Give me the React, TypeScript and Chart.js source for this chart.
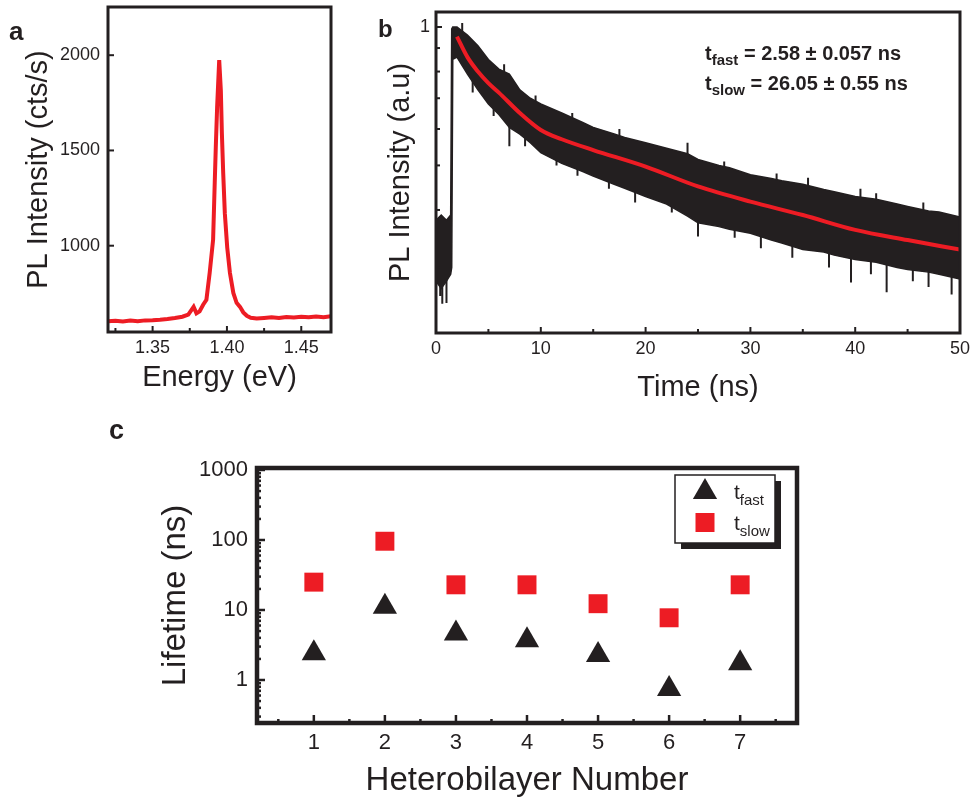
import React, { useEffect, useRef } from "react";
import { Chart, registerables } from "chart.js";
Chart.register(...registerables);

const FONT = "'Liberation Sans', Arial, Helvetica, sans-serif";
const RED = "#ed1c24";
const BLACK = "#231f20";

// ---------- Panel a : PL spectrum ----------
const energyEV = [1.320, 1.325, 1.330, 1.335, 1.340, 1.345, 1.350, 1.355, 1.360, 1.365, 1.370, 1.374, 1.3776, 1.3795, 1.3816, 1.384, 1.3862, 1.3884, 1.3907, 1.3918, 1.3925, 1.3934, 1.3948, 1.3959, 1.3966, 1.3975, 1.3986, 1.4002, 1.402, 1.4043, 1.4065, 1.4088, 1.411, 1.4134, 1.416, 1.420, 1.425, 1.430, 1.435, 1.440, 1.445, 1.450, 1.455, 1.460, 1.465, 1.470];
const plCounts = [603, 606, 602, 607, 604, 608, 609, 611, 615, 620, 627, 638, 679, 645, 655, 690, 716, 858, 1032, 1332, 1516, 1726, 1974, 1816, 1590, 1380, 1168, 990, 858, 752, 700, 679, 650, 632, 622, 618, 621, 624, 620, 626, 623, 627, 624, 628, 625, 630];
const aXTicks = [1.35, 1.40, 1.45];
const aXMinor = [1.325, 1.375, 1.425];
const aYTicks = [1000, 1500, 2000];

// ---------- Panel b : PL decay ----------
const decayTime = [0, 0.5, 1.0, 1.4, 1.5, 1.6, 2, 3, 4, 5, 6, 7, 8, 9, 10, 12, 14, 15, 17, 18, 20, 22, 24, 25, 27, 28, 30, 32, 33, 35, 37, 38, 40, 42, 44, 45, 47, 48, 50];
const decayUpper = [0.38, 0.39, 0.38, 0.39, 0.99, 1.0, 1.0, 0.96, 0.91, 0.85, 0.81, 0.79, 0.73, 0.70, 0.68, 0.65, 0.62, 0.605, 0.585, 0.575, 0.56, 0.545, 0.53, 0.515, 0.50, 0.494, 0.477, 0.468, 0.463, 0.455, 0.443, 0.438, 0.428, 0.422, 0.412, 0.407, 0.398, 0.396, 0.386];
const decayLower = [0.28, 0.27, 0.28, 0.29, 0.30, 0.85, 0.86, 0.79, 0.73, 0.68, 0.645, 0.605, 0.585, 0.56, 0.533, 0.505, 0.485, 0.474, 0.455, 0.446, 0.428, 0.412, 0.388, 0.375, 0.368, 0.363, 0.356, 0.344, 0.339, 0.328, 0.324, 0.319, 0.312, 0.308, 0.30, 0.297, 0.293, 0.29, 0.283];
const spikeTime = [0.4, 0.6, 1.0, 3.5, 5.5, 7.0, 8.5, 11.5, 13.5, 16.5, 19.0, 22.5, 25.0, 28.5, 31.0, 34.0, 37.5, 39.6, 41.5, 43.0, 45.5, 47.0, 49.2];
const spikeLow = [0.26, 0.25, 0.251, 0.72, 0.64, 0.55, 0.55, 0.50, 0.475, 0.445, 0.415, 0.395, 0.35, 0.348, 0.33, 0.315, 0.30, 0.278, 0.29, 0.265, 0.28, 0.272, 0.262];
const spikeHigh = [0.30, 0.30, 0.30, 0.80, 0.70, 0.62, 0.60, 0.55, 0.52, 0.48, 0.45, 0.43, 0.40, 0.38, 0.36, 0.35, 0.33, 0.33, 0.32, 0.32, 0.31, 0.31, 0.31];
const spikeUpTime = [2.5, 6.5, 9.5, 13.0, 17.5, 24.0, 27.5, 32.5, 35.5, 40.5, 42.0, 46.5];
const spikeUpLow = [0.95, 0.76, 0.66, 0.60, 0.56, 0.50, 0.47, 0.44, 0.43, 0.41, 0.40, 0.38];
const spikeUpHigh = [1.02, 0.83, 0.71, 0.65, 0.60, 0.56, 0.51, 0.48, 0.47, 0.445, 0.435, 0.415];
const fitTime = [2, 3, 4, 5, 6, 8, 10, 12, 15, 20, 25, 30, 35, 40, 45, 50];
const fitValues = [0.953, 0.86, 0.80, 0.755, 0.72, 0.65, 0.597, 0.57, 0.54, 0.497, 0.45, 0.417, 0.39, 0.362, 0.344, 0.328];
const bXTicks = [0, 10, 20, 30, 40, 50];
const bXMinor = [5, 15, 25, 35, 45];
const bYTicks = [1];
const bYMinor = [0.9, 0.8, 0.7, 0.6, 0.5, 0.4, 0.3];
const fitLines = [
  { main: "t", sub: "fast", rest: " = 2.58 ± 0.057 ns" },
  { main: "t", sub: "slow", rest: " = 26.05 ± 0.55 ns" },
];

// ---------- Panel c : lifetimes ----------
const bilayerNumber = [1, 2, 3, 4, 5, 6, 7];
const tFast = [2.41, 11.1, 4.63, 3.71, 2.27, 0.744, 1.73];
const tSlow = [25.0, 96, 22.9, 22.9, 12.3, 7.74, 22.9];
const cXTicks = [1, 2, 3, 4, 5, 6, 7];
const cXMinor = [0.5, 1.5, 2.5, 3.5, 4.5, 5.5, 6.5, 7.5];
const cYTicks = [1, 10, 100, 1000];
const cYMinor = [0.3, 0.4, 0.5, 0.6, 0.7, 0.8, 0.9, 2, 3, 4, 5, 6, 7, 8, 9, 20, 30, 40, 50, 60, 70, 80, 90, 200, 300, 400, 500, 600, 700, 800, 900];
const legendItems = [
  { main: "t", sub: "fast" },
  { main: "t", sub: "slow" },
];

const framePlugin = {
  id: "frame",
  afterDatasetsDraw(chart: any, _a: any, o: any) {
    const { ctx, chartArea } = chart;
    const { left, right, top, bottom } = chartArea;
    const x = chart.scales.x;
    const y = chart.scales.y;
    ctx.save();
    ctx.strokeStyle = o.color;
    ctx.lineWidth = o.tickWidth;
    const hx = (vals: number[], len: number) => {
      for (const v of vals) {
        const p = x.getPixelForValue(v);
        if (p < left || p > right) continue;
        ctx.beginPath();
        ctx.moveTo(p, bottom);
        ctx.lineTo(p, bottom - len);
        ctx.stroke();
      }
    };
    const vy = (vals: number[], len: number) => {
      for (const v of vals) {
        const p = y.getPixelForValue(v);
        if (p < top || p > bottom) continue;
        ctx.beginPath();
        ctx.moveTo(left, p);
        ctx.lineTo(left + len, p);
        ctx.stroke();
      }
    };
    hx(o.xMajor || [], o.majorLen);
    hx(o.xMinor || [], o.minorLen);
    vy(o.yMajor || [], o.majorLen);
    vy(o.yMinor || [], o.minorLen);
    ctx.lineWidth = o.lineWidth;
    ctx.strokeRect(left, top, right - left, bottom - top);
    ctx.restore();
  },
};

function drawSub(ctx: any, x: number, y: number, main: string, sub: string, rest: string, mainFont: string, subFont: string, dy: number) {
  ctx.font = mainFont;
  ctx.fillText(main, x, y);
  let w = ctx.measureText(main).width;
  ctx.font = subFont;
  ctx.fillText(sub, x + w, y + dy);
  w += ctx.measureText(sub).width;
  if (rest) {
    ctx.font = mainFont;
    ctx.fillText(rest, x + w, y);
  }
}

const annotatePlugin = {
  id: "annot",
  afterDraw(chart: any, _a: any, o: any) {
    const { ctx } = chart;
    ctx.save();
    ctx.fillStyle = BLACK;
    ctx.textBaseline = "alphabetic";
    o.lines.forEach((l: any, i: number) => {
      drawSub(ctx, o.x, o.y + i * o.gap, l.main, l.sub, l.rest, `bold ${o.size}px ${FONT}`, `bold ${o.subSize}px ${FONT}`, o.subDy);
    });
    ctx.restore();
  },
};

const legendPlugin = {
  id: "legbox",
  afterDraw(chart: any, _a: any, o: any) {
    const { ctx } = chart;
    const { x, y, w, h, sh } = o;
    ctx.save();
    ctx.fillStyle = BLACK;
    ctx.fillRect(x + sh, y + sh, w, h);
    ctx.fillStyle = "#fff";
    ctx.fillRect(x, y, w, h);
    ctx.strokeStyle = BLACK;
    ctx.lineWidth = 1.5;
    ctx.strokeRect(x, y, w, h);
    const mx = x + 30;
    const r = 14;
    const ty = y + 17;
    ctx.fillStyle = BLACK;
    ctx.beginPath();
    ctx.moveTo(mx, ty - r);
    ctx.lineTo(mx + r * Math.sin((2 * Math.PI) / 3), ty - r * Math.cos((2 * Math.PI) / 3));
    ctx.lineTo(mx + r * Math.sin((4 * Math.PI) / 3), ty - r * Math.cos((4 * Math.PI) / 3));
    ctx.closePath();
    ctx.fill();
    ctx.fillStyle = RED;
    ctx.fillRect(mx - 9.5, y + 38, 19, 19);
    ctx.fillStyle = BLACK;
    ctx.textBaseline = "alphabetic";
    legendItems.forEach((it, i) => {
      drawSub(ctx, x + 59, y + 24 + i * 31, it.main, it.sub, "", `21px ${FONT}`, `15px ${FONT}`, 6);
    });
    ctx.restore();
  },
};

function fixedBox(kind: "w" | "h", size: number) {
  return (s: any) => {
    if (kind === "w") s.width = size;
    else s.height = size;
    s.paddingLeft = 0;
    s.paddingRight = 0;
    s.paddingTop = 0;
    s.paddingBottom = 0;
  };
}

function setTicks(vals: number[]) {
  return (s: any) => {
    s.ticks = vals.map((v) => ({ value: v }));
  };
}

const tickFont = (size: number) => ({ family: FONT, size });

function useChart(ref: React.RefObject<HTMLCanvasElement | null>, make: () => any) {
  useEffect(() => {
    if (!ref.current) return;
    const ch = new Chart(ref.current, make());
    return () => ch.destroy();
  }, []);
}

function segments(ts: number[], lo: number[], hi: number[]) {
  const out: any[] = [];
  ts.forEach((t, i) => {
    out.push({ x: t, y: lo[i] }, { x: t, y: hi[i] }, { x: t, y: null });
  });
  return out;
}

function configA() {
  return {
    type: "line",
    data: {
      datasets: [
        {
          data: energyEV.map((e, i) => ({ x: e, y: plCounts[i] })),
          borderColor: RED,
          borderWidth: 4,
          pointRadius: 0,
          tension: 0,
        },
      ],
    },
    plugins: [framePlugin],
    options: {
      animation: false,
      responsive: false,
      layout: { padding: { left: 0, right: 14, top: 7, bottom: 0 } },
      plugins: {
        legend: { display: false },
        tooltip: { enabled: false },
        frame: { color: BLACK, lineWidth: 3, tickWidth: 2, majorLen: 6, minorLen: 4, xMajor: aXTicks, xMinor: aXMinor, yMajor: aYTicks },
      },
      scales: {
        x: {
          type: "linear",
          min: 1.32,
          max: 1.47,
          grid: { display: false, drawTicks: false },
          border: { display: false },
          afterBuildTicks: setTicks(aXTicks),
          afterFit: fixedBox("h", 78),
          ticks: { font: tickFont(18), color: BLACK, padding: 5, maxRotation: 0, autoSkip: false, callback: (v: any) => Number(v).toFixed(2) },
          title: { display: true, text: "Energy (eV)", color: BLACK, font: { family: FONT, size: 29 }, padding: { top: 0, bottom: 15 } },
        },
        y: {
          type: "linear",
          min: 547,
          max: 2253,
          grid: { display: false, drawTicks: false },
          border: { display: false },
          afterBuildTicks: setTicks(aYTicks),
          afterFit: fixedBox("w", 108),
          ticks: { font: tickFont(18), color: BLACK, padding: 8, callback: (v: any) => String(v) },
          title: { display: true, text: "PL Intensity (cts/s)", color: BLACK, font: { family: FONT, size: 29 }, padding: { top: 22, bottom: 0 } },
        },
      },
    },
  };
}

function configB() {
  return {
    type: "line",
    data: {
      datasets: [
        {
          data: fitTime.map((t, i) => ({ x: t, y: fitValues[i] })),
          borderColor: RED,
          borderWidth: 4,
          pointRadius: 0,
          cubicInterpolationMode: "monotone",
          fill: false,
        },
        {
          data: decayTime.map((t, i) => ({ x: t, y: decayUpper[i] })),
          borderColor: BLACK,
          backgroundColor: BLACK,
          borderWidth: 1.5,
          pointRadius: 0,
          fill: "+1",
        },
        {
          data: decayTime.map((t, i) => ({ x: t, y: decayLower[i] })),
          borderColor: BLACK,
          borderWidth: 1.5,
          pointRadius: 0,
          fill: false,
        },
        {
          data: segments(spikeTime, spikeLow, spikeHigh),
          borderColor: BLACK,
          borderWidth: 2,
          pointRadius: 0,
          spanGaps: false,
          fill: false,
        },
        {
          data: segments(spikeUpTime, spikeUpLow, spikeUpHigh),
          borderColor: BLACK,
          borderWidth: 2,
          pointRadius: 0,
          spanGaps: false,
          fill: false,
        },
      ],
    },
    plugins: [framePlugin, annotatePlugin],
    options: {
      animation: false,
      responsive: false,
      layout: { padding: { left: 0, right: 11, top: 12, bottom: 0 } },
      plugins: {
        legend: { display: false },
        tooltip: { enabled: false },
        frame: { color: BLACK, lineWidth: 3, tickWidth: 2, majorLen: 6, minorLen: 4, xMajor: bXTicks, xMinor: bXMinor, yMajor: bYTicks, yMinor: bYMinor },
        annot: { lines: fitLines, x: 360, y: 60, gap: 30, size: 20, subSize: 15, subDy: 5 },
      },
      scales: {
        x: {
          type: "linear",
          min: 0,
          max: 50,
          grid: { display: false, drawTicks: false },
          border: { display: false },
          afterBuildTicks: setTicks(bXTicks),
          afterFit: fixedBox("h", 77),
          ticks: { font: tickFont(18), color: BLACK, padding: 5, maxRotation: 0, autoSkip: false },
          title: { display: true, text: "Time (ns)", color: BLACK, font: { family: FONT, size: 29 }, padding: { top: 0, bottom: 5 } },
        },
        y: {
          type: "logarithmic",
          min: 0.216,
          max: 1.078,
          grid: { display: false, drawTicks: false },
          border: { display: false },
          afterBuildTicks: setTicks(bYTicks),
          afterFit: fixedBox("w", 91),
          ticks: { font: tickFont(18), color: BLACK, padding: 6, callback: (v: any) => String(v) },
          title: { display: true, text: "PL Intensity (a.u)", color: BLACK, font: { family: FONT, size: 29 }, padding: { top: 39, bottom: 0 } },
        },
      },
    },
  };
}

function configC() {
  return {
    type: "scatter",
    data: {
      datasets: [
        {
          data: bilayerNumber.map((n, i) => ({ x: n, y: tFast[i] })),
          pointStyle: "triangle",
          pointRadius: 14,
          backgroundColor: BLACK,
          borderColor: BLACK,
          borderWidth: 0,
        },
        {
          data: bilayerNumber.map((n, i) => ({ x: n, y: tSlow[i] })),
          pointStyle: "rect",
          pointRadius: 13.4,
          backgroundColor: RED,
          borderColor: RED,
          borderWidth: 0,
        },
      ],
    },
    plugins: [framePlugin, legendPlugin],
    options: {
      animation: false,
      responsive: false,
      layout: { padding: { left: 0, right: 174, top: 73, bottom: 0 } },
      plugins: {
        legend: { display: false },
        tooltip: { enabled: false },
        frame: { color: BLACK, lineWidth: 4.5, tickWidth: 2.5, majorLen: 8, minorLen: 4, xMajor: cXTicks, xMinor: cXMinor, yMajor: cYTicks, yMinor: cYMinor },
        legbox: { x: 675, y: 80, w: 100, h: 68, sh: 6 },
      },
      scales: {
        x: {
          type: "linear",
          min: 0.2,
          max: 7.8,
          grid: { display: false, drawTicks: false },
          border: { display: false },
          afterBuildTicks: setTicks(cXTicks),
          afterFit: fixedBox("h", 75),
          ticks: { font: tickFont(22), color: BLACK, padding: 7, maxRotation: 0, autoSkip: false },
          title: { display: true, text: "Heterobilayer Number", color: BLACK, font: { family: FONT, size: 33 }, padding: { top: 0, bottom: -3 } },
        },
        y: {
          type: "logarithmic",
          min: 0.243,
          max: 1068,
          grid: { display: false, drawTicks: false },
          border: { display: false },
          afterBuildTicks: setTicks(cYTicks),
          afterFit: fixedBox("w", 257),
          ticks: { font: tickFont(22), color: BLACK, padding: 9, callback: (v: any) => String(v) },
          title: { display: true, text: "Lifetime (ns)", color: BLACK, font: { family: FONT, size: 33 }, padding: { top: 156, bottom: 0 } },
        },
      },
    },
  };
}

const letterStyle: React.CSSProperties = {
  position: "absolute",
  fontFamily: FONT,
  fontWeight: "bold",
  color: BLACK,
  lineHeight: 1,
};

export default function App() {
  const refA = useRef<HTMLCanvasElement>(null);
  const refB = useRef<HTMLCanvasElement>(null);
  const refC = useRef<HTMLCanvasElement>(null);
  useChart(refA, configA);
  useChart(refB, configB);
  useChart(refC, configC);
  return (
    <div style={{ position: "absolute", left: 0, top: 0, width: 971, height: 798, background: "#fff", overflow: "hidden" }}>
      <canvas ref={refA} width={345} height={410} style={{ position: "absolute", left: 0, top: 0, width: 345, height: 410 }} />
      <canvas ref={refB} width={626} height={410} style={{ position: "absolute", left: 345, top: 0, width: 626, height: 410 }} />
      <canvas ref={refC} width={971} height={403} style={{ position: "absolute", left: 0, top: 395, width: 971, height: 403 }} />
      <div style={{ ...letterStyle, left: 9, top: 18, fontSize: 26 }}>a</div>
      <div style={{ ...letterStyle, left: 378, top: 17, fontSize: 24 }}>b</div>
      <div style={{ ...letterStyle, left: 109, top: 417, fontSize: 27 }}>c</div>
    </div>
  );
}
